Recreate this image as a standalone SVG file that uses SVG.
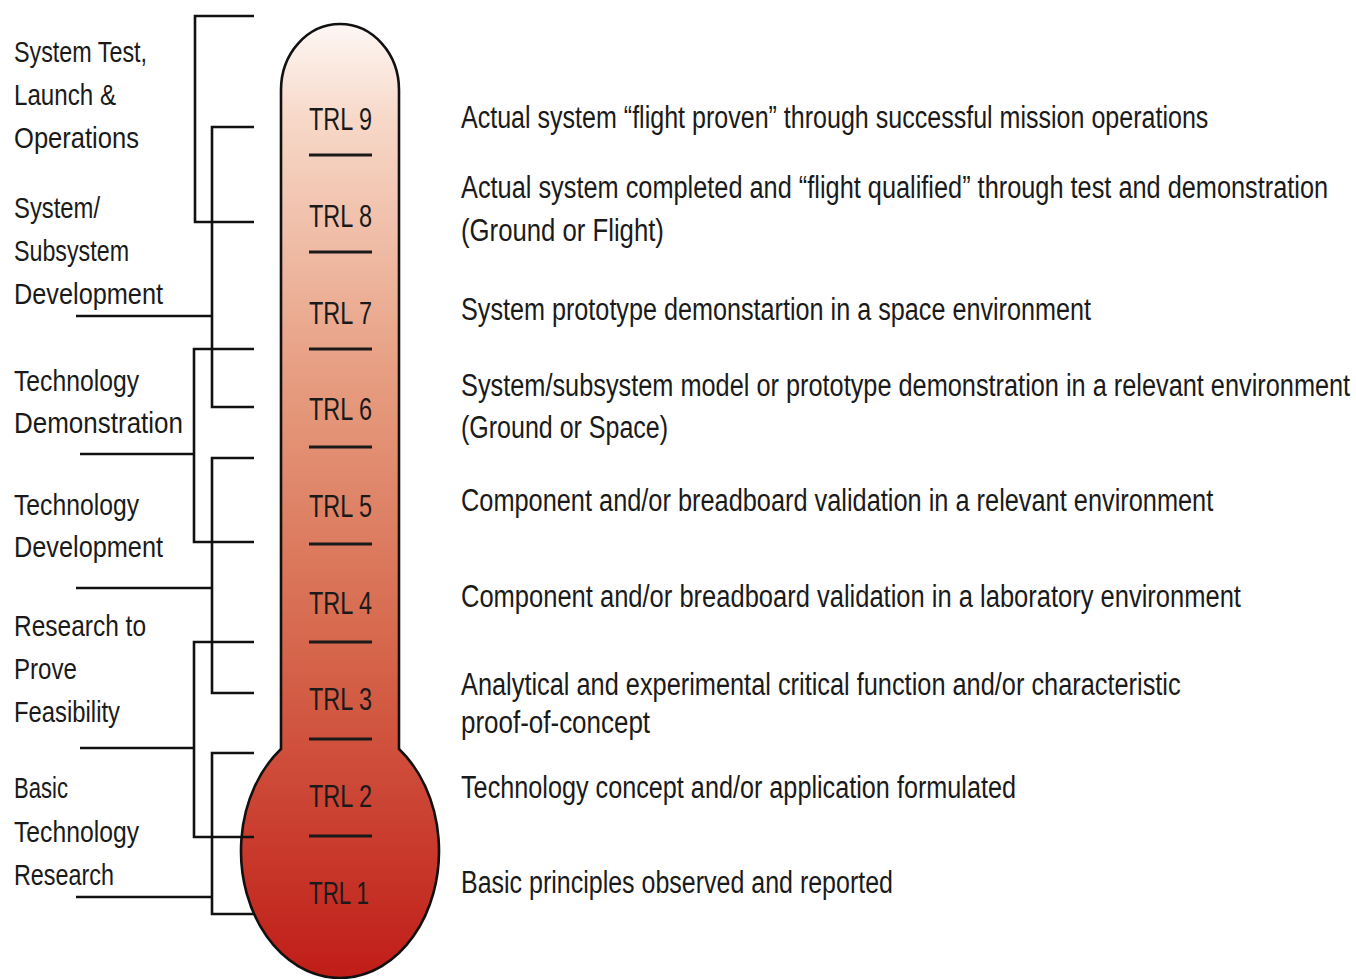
<svg xmlns="http://www.w3.org/2000/svg" width="1356" height="979" viewBox="0 0 1356 979">
<defs>
<linearGradient id="therm" gradientUnits="userSpaceOnUse" x1="0" y1="24" x2="0" y2="979">
<stop offset="0" stop-color="#fdf7f4"/>
<stop offset="0.1" stop-color="#f7d8c8"/>
<stop offset="0.38" stop-color="#e69b7e"/>
<stop offset="0.65" stop-color="#d6674c"/>
<stop offset="1" stop-color="#c01d18"/>
</linearGradient>
<style>
text{font-family:"Liberation Sans",Arial,sans-serif;fill:#1a1a1a;}
.lbl{font-size:30px;}
.desc{font-size:31px;}
.trl{font-size:31px;}
.br{fill:none;stroke:#111;stroke-width:2.6;}
.div{stroke:#1a1a1a;stroke-width:3;}
.tube{fill:url(#therm);stroke:#111;stroke-width:2.6;}
</style>
</defs>
<rect width="1356" height="979" fill="#ffffff"/>

<g id="thermometer">
<path class="tube" d="M281,749 L281,90 A59,66 0 0 1 399,90 L399,749 A99,127 0 1 1 281,749 Z"/>
</g>

<g id="trl-levels">
<g id="trl9"><text class="trl" x="309" y="130" textLength="63" lengthAdjust="spacingAndGlyphs">TRL 9</text><line class="div" x1="309" y1="155" x2="372" y2="155"/></g>
<g id="trl8"><text class="trl" x="309" y="227" textLength="63" lengthAdjust="spacingAndGlyphs">TRL 8</text><line class="div" x1="309" y1="252" x2="372" y2="252"/></g>
<g id="trl7"><text class="trl" x="309" y="324" textLength="63" lengthAdjust="spacingAndGlyphs">TRL 7</text><line class="div" x1="309" y1="349" x2="372" y2="349"/></g>
<g id="trl6"><text class="trl" x="309" y="420" textLength="63" lengthAdjust="spacingAndGlyphs">TRL 6</text><line class="div" x1="309" y1="447" x2="372" y2="447"/></g>
<g id="trl5"><text class="trl" x="309" y="517" textLength="63" lengthAdjust="spacingAndGlyphs">TRL 5</text><line class="div" x1="309" y1="544" x2="372" y2="544"/></g>
<g id="trl4"><text class="trl" x="309" y="614" textLength="63" lengthAdjust="spacingAndGlyphs">TRL 4</text><line class="div" x1="309" y1="642" x2="372" y2="642"/></g>
<g id="trl3"><text class="trl" x="309" y="710" textLength="63" lengthAdjust="spacingAndGlyphs">TRL 3</text><line class="div" x1="309" y1="739" x2="372" y2="739"/></g>
<g id="trl2"><text class="trl" x="309" y="807" textLength="63" lengthAdjust="spacingAndGlyphs">TRL 2</text><line class="div" x1="309" y1="836" x2="372" y2="836"/></g>
<g id="trl1"><text class="trl" x="309" y="904" textLength="60" lengthAdjust="spacingAndGlyphs">TRL 1</text></g>
</g>

<g id="connectors">
<path class="br" d="M254,16 H195 V222 H254"/>
<path class="br" d="M254,127 H212 V407 H254 M76,316 H212"/>
<path class="br" d="M254,349 H194 V542 H254 M80,454 H194"/>
<path class="br" d="M254,458 H212 V693 H254 M76,588 H212"/>
<path class="br" d="M254,642 H194 V837 H254 M80,748 H194"/>
<path class="br" d="M254,753 H212 V914 H254 M76,897 H212"/>
</g>

<g id="phase-system-test">
<text class="lbl" x="14" y="62" textLength="133" lengthAdjust="spacingAndGlyphs">System Test,</text>
<text class="lbl" x="14" y="105" textLength="102" lengthAdjust="spacingAndGlyphs">Launch &amp;</text>
<text class="lbl" x="14" y="148" textLength="125" lengthAdjust="spacingAndGlyphs">Operations</text>
</g>
<g id="phase-system-dev">
<text class="lbl" x="14" y="218" textLength="86" lengthAdjust="spacingAndGlyphs">System/</text>
<text class="lbl" x="14" y="261" textLength="115" lengthAdjust="spacingAndGlyphs">Subsystem</text>
<text class="lbl" x="14" y="304" textLength="149" lengthAdjust="spacingAndGlyphs">Development</text>
</g>
<g id="phase-tech-demo">
<text class="lbl" x="14" y="391" textLength="125" lengthAdjust="spacingAndGlyphs">Technology</text>
<text class="lbl" x="14" y="433" textLength="169" lengthAdjust="spacingAndGlyphs">Demonstration</text>
</g>
<g id="phase-tech-dev">
<text class="lbl" x="14" y="515" textLength="125" lengthAdjust="spacingAndGlyphs">Technology</text>
<text class="lbl" x="14" y="557" textLength="149" lengthAdjust="spacingAndGlyphs">Development</text>
</g>
<g id="phase-research">
<text class="lbl" x="14" y="636" textLength="132" lengthAdjust="spacingAndGlyphs">Research to</text>
<text class="lbl" x="14" y="679" textLength="63" lengthAdjust="spacingAndGlyphs">Prove</text>
<text class="lbl" x="14" y="722" textLength="106" lengthAdjust="spacingAndGlyphs">Feasibility</text>
</g>
<g id="phase-basic">
<text class="lbl" x="14" y="798" textLength="54" lengthAdjust="spacingAndGlyphs">Basic</text>
<text class="lbl" x="14" y="842" textLength="125" lengthAdjust="spacingAndGlyphs">Technology</text>
<text class="lbl" x="14" y="885" textLength="100" lengthAdjust="spacingAndGlyphs">Research</text>
</g>

<g id="descriptions">
<text class="desc" transform="translate(461,128) scale(0.815,1)" textLength="917" lengthAdjust="spacingAndGlyphs">Actual system “flight proven” through successful mission operations</text>
<text class="desc" transform="translate(461,198) scale(0.815,1)" textLength="1064" lengthAdjust="spacingAndGlyphs">Actual system completed and “flight qualified” through test and demonstration</text>
<text class="desc" transform="translate(461,241) scale(0.815,1)" textLength="249" lengthAdjust="spacingAndGlyphs">(Ground or Flight)</text>
<text class="desc" transform="translate(461,320) scale(0.815,1)" textLength="773" lengthAdjust="spacingAndGlyphs">System prototype demonstartion in a space environment</text>
<text class="desc" transform="translate(461,396) scale(0.815,1)" textLength="1091" lengthAdjust="spacingAndGlyphs">System/subsystem model or prototype demonstration in a relevant environment</text>
<text class="desc" transform="translate(461,438) scale(0.815,1)" textLength="254" lengthAdjust="spacingAndGlyphs">(Ground or Space)</text>
<text class="desc" transform="translate(461,511) scale(0.815,1)" textLength="923" lengthAdjust="spacingAndGlyphs">Component and/or breadboard validation in a relevant environment</text>
<text class="desc" transform="translate(461,607) scale(0.815,1)" textLength="957" lengthAdjust="spacingAndGlyphs">Component and/or breadboard validation in a laboratory environment</text>
<text class="desc" transform="translate(461,695) scale(0.815,1)" textLength="883" lengthAdjust="spacingAndGlyphs">Analytical and experimental critical function and/or characteristic</text>
<text class="desc" transform="translate(461,733) scale(0.815,1)" textLength="232" lengthAdjust="spacingAndGlyphs">proof-of-concept</text>
<text class="desc" transform="translate(461,798) scale(0.815,1)" textLength="681" lengthAdjust="spacingAndGlyphs">Technology concept and/or application formulated</text>
<text class="desc" transform="translate(461,893) scale(0.815,1)" textLength="530" lengthAdjust="spacingAndGlyphs">Basic principles observed and reported</text>
</g>
</svg>
